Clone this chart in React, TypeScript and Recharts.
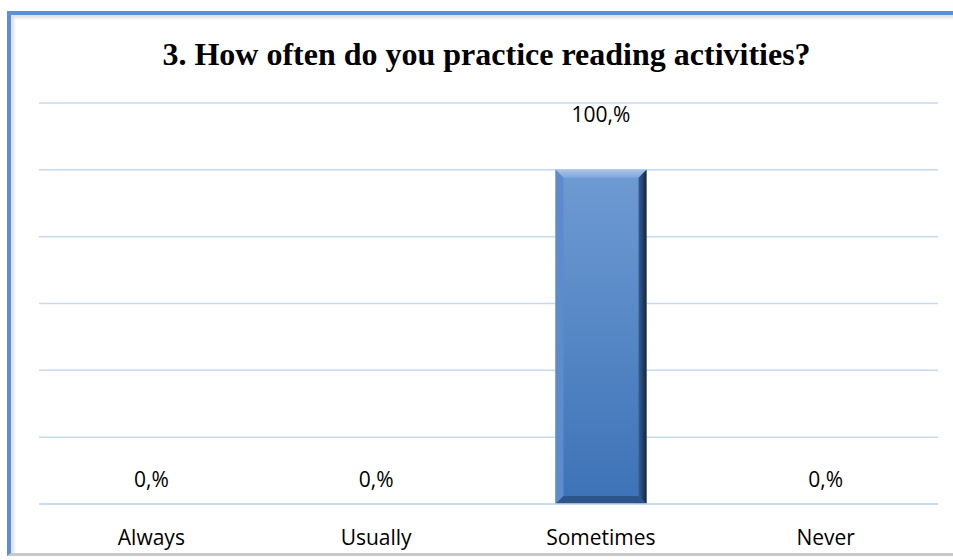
import React from 'react';
import { BarChart, Bar, XAxis, YAxis, CartesianGrid, LabelList } from 'recharts';

const categories = ['Always', 'Usually', 'Sometimes', 'Never'];
const shares = [0, 0, 100, 0];
const yTicks = [0, 20, 40, 60, 80, 100, 120];

const data = categories.map((name, i) => ({ name, value: shares[i] }));

const FONT = '"Open Sans", sans-serif';

// bar with Excel-like bevel edges
const BevelBar = (props: any) => {
  const { x, y, width, height } = props;
  if (!height || height <= 0) return null;
  const b = 8;
  const x2 = x + width;
  const y2 = y + height;
  return (
    <g>
      <rect x={x} y={y} width={width} height={height} fill="url(#barBody)" />
      <polygon points={`${x},${y} ${x2},${y} ${x2 - b},${y + b} ${x + b},${y + b}`} fill="url(#barTop)" />
      <polygon points={`${x},${y} ${x + b},${y + b} ${x + b},${y2 - b} ${x},${y2}`} fill="#5c8ccb" />
      <polygon points={`${x2},${y} ${x2},${y2} ${x2 - b},${y2 - b} ${x2 - b},${y + b}`} fill="url(#barRight)" />
      <polygon points={`${x},${y2} ${x + b},${y2 - b} ${x2 - b},${y2 - b} ${x2},${y2}`} fill="#2d5589" />
    </g>
  );
};

const ValueLabel = (props: any) => {
  const { x, y, width, height, value } = props;
  const off = height > 0 ? 48 : 17;
  return (
    <text x={x + width / 2} y={y - off} textAnchor="middle" fontFamily={FONT} fontSize={21} fill="#000">
      {`${value},%`}
    </text>
  );
};

const App: React.FC = () => {
  return (
    <div style={{ position: 'fixed', left: 0, top: 0, width: 953, height: 560, background: '#fff', overflow: 'hidden' }}>
      <style>{'html,body{overflow:hidden;margin:0;}'}</style>
      <div
        style={{
          position: 'absolute',
          left: 7,
          top: 11,
          width: 960,
          height: 538,
          borderTop: '4px solid #5b8fd6',
          borderLeft: '4px solid #5b8fd6',
          borderBottom: '3px solid #c8c8c8',
          boxShadow: 'inset 3px 3px 3px rgba(0,0,0,0.12)',
        }}
      />
      <div
        style={{
          position: 'absolute',
          left: 20,
          top: 34,
          width: 933,
          textAlign: 'center',
          fontFamily: '"Liberation Serif", "Times New Roman", serif',
          fontWeight: 'bold',
          fontSize: 32,
          lineHeight: '40px',
          color: '#000',
        }}
      >
        3. How often do you practice reading activities?
      </div>
      <div style={{ position: 'absolute', left: 0, top: 0 }}>
        <BarChart width={953} height={560} data={data} margin={{ top: 103, right: 15, bottom: 0, left: 39 }}>
          <defs>
            <linearGradient id="barBody" x1="0" y1="0" x2="0" y2="1">
              <stop offset="0%" stopColor="#6f9bd3" />
              <stop offset="100%" stopColor="#3c72b7" />
            </linearGradient>
            <linearGradient id="barTop" x1="0" y1="0" x2="0" y2="1">
              <stop offset="0%" stopColor="#a9c4e8" />
              <stop offset="100%" stopColor="#7ea6da" />
            </linearGradient>
            <linearGradient id="barRight" x1="0" y1="0" x2="1" y2="0">
              <stop offset="0%" stopColor="#355f95" />
              <stop offset="100%" stopColor="#15253a" />
            </linearGradient>
          </defs>
          <CartesianGrid vertical={false} stroke="#c6d9f1" strokeWidth={1.5} />
          <XAxis
            dataKey="name"
            height={56}
            axisLine={{ stroke: '#c6d9f1', strokeWidth: 1.5 }}
            tickLine={false}
            tickSize={0}
            tickMargin={26}
            tick={{ fontFamily: FONT, fontSize: 21, fill: '#000' }}
            interval={0}
          />
          <YAxis hide domain={[0, 120]} ticks={yTicks} />
          <Bar dataKey="value" barSize={91} shape={<BevelBar />} isAnimationActive={false}>
            <LabelList dataKey="value" content={<ValueLabel />} />
          </Bar>
        </BarChart>
      </div>
    </div>
  );
};

export default App;
